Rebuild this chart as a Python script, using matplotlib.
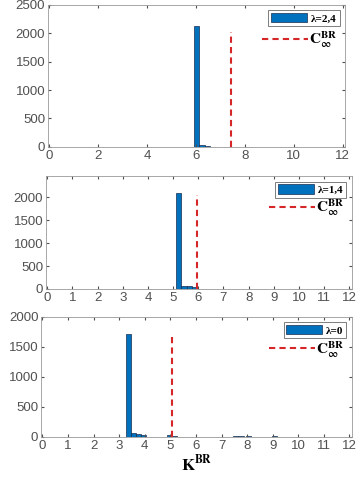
import matplotlib.pyplot as plt
from matplotlib.lines import Line2D

plt.rcParams['font.family'] = ['Liberation Sans', 'DejaVu Sans']
plt.rcParams['mathtext.fontset'] = 'stix'

# histogram data per panel (bin left edges, counts)
lam_labels = ['λ=2,4', 'λ=1,4', 'λ=0']
bin_w = [0.22, 0.22, 0.2]
bin_left = [
    [5.92, 6.14, 6.36],
    [5.10, 5.32, 5.54, 5.76],
    [3.26, 3.46, 3.66, 3.86, 4.86, 5.06, 7.46, 7.66, 7.96, 8.96],
]
counts = [
    [2120, 40, 22],
    [2090, 65, 55, 40],
    [1720, 60, 45, 35, 25, 20, 20, 20, 15, 20],
]
c_inf = [7.42, 5.95, 5.08]
c_top = [2020, 2050, 1670]
ylims = [2500, 2460, 2000]
yticks = [[0, 500, 1000, 1500, 2000, 2500],
          [0, 500, 1000, 1500, 2000],
          [0, 500, 1000, 1500, 2000]]
xticks = [list(range(0, 13, 2)), list(range(13)), list(range(13))]

positions = [
    [0.132, 0.694, 0.816, 0.296],
    [0.126, 0.398, 0.841, 0.235],
    [0.113, 0.090, 0.854, 0.250],
]

fig = plt.figure(figsize=(3.64, 4.8), dpi=100)

for i in range(3):
    ax = fig.add_axes(positions[i])
    bars = ax.bar(bin_left[i], counts[i], width=bin_w[i], align='edge',
                  color='#0072BD', edgecolor='#1a2a50', linewidth=0.5,
                  label=lam_labels[i])
    ax.plot([c_inf[i], c_inf[i]], [0, c_top[i]], color='#d62728',
            linestyle='--', linewidth=1.5, dashes=(3, 2))
    ax.set_xlim(-0.05, 12.1)
    ax.set_ylim(0, ylims[i])
    ax.set_xticks(xticks[i])
    ax.set_yticks(yticks[i])
    ax.tick_params(direction='in', length=2, labelsize=9.5, colors='#505050',
                   top=True, right=True, pad=2)
    for s in ax.spines.values():
        s.set_color('#999999')
        s.set_linewidth(0.6)

    leg1 = ax.legend(handles=[bars], loc='upper right',
                     prop={'family': 'Liberation Serif', 'weight': 'bold', 'size': 8},
                     frameon=True, fancybox=False, edgecolor='#444444',
                     handlelength=3.2, handleheight=0.9, borderpad=0.25,
                     handletextpad=0.4, borderaxespad=0.5)
    leg1.get_frame().set_linewidth(0.6)
    ax.add_artist(leg1)
    line_h = Line2D([], [], color='#d62728', linestyle='--', dashes=(3, 2), linewidth=1.5)
    ax.legend(handles=[line_h],
              labels=[r'$\mathbf{C}_{\mathbf{\infty}}^{\mathbf{BR}}$'],
              loc='upper right', bbox_to_anchor=(1.0, 0.88), frameon=False,
              fontsize=11, handlelength=3.0, handletextpad=0.1,
              borderaxespad=0.1)

    if i == 2:
        ax.set_xlabel(r'$\mathbf{K}^{\mathbf{BR}}$', fontsize=12, labelpad=1)

fig.savefig('out.png', dpi=100)
